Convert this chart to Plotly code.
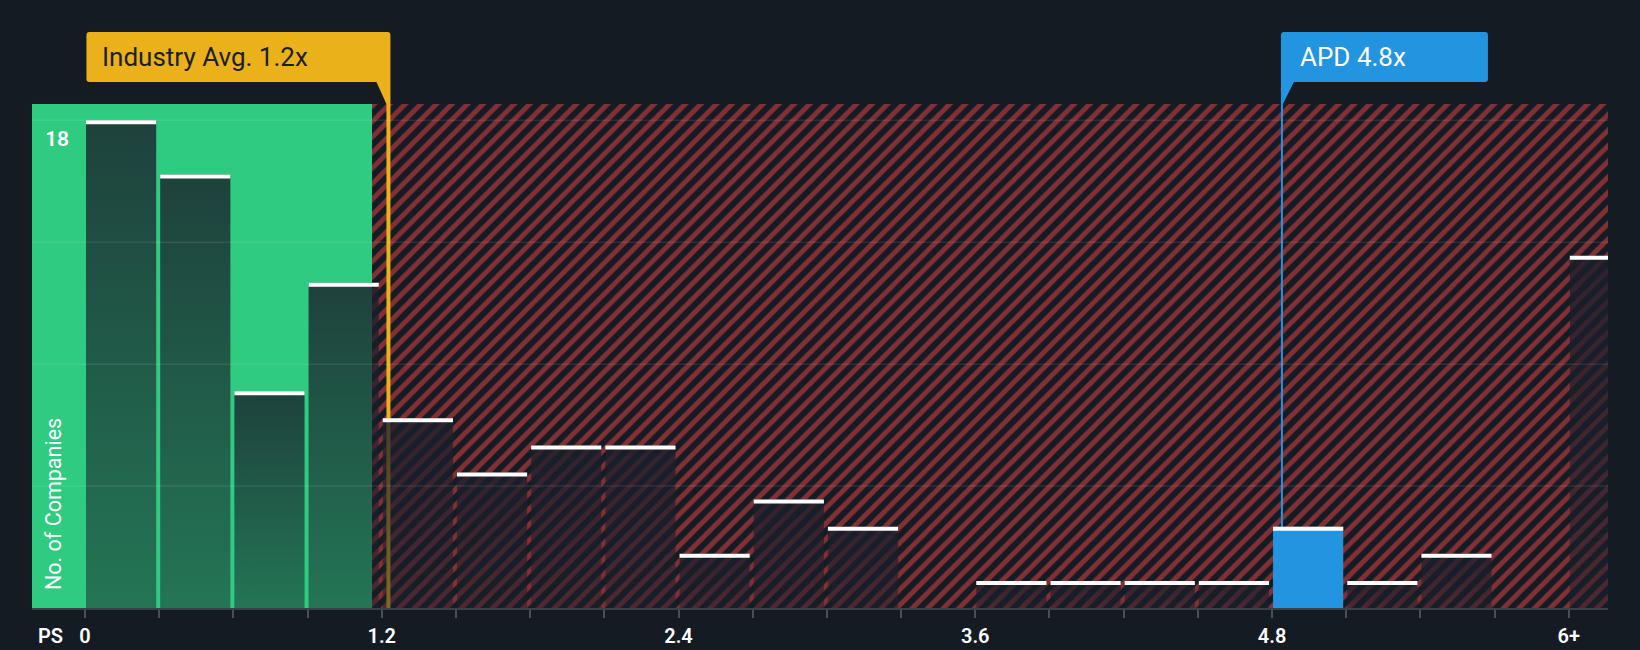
import plotly.graph_objects as go

# ---------------- data ----------------
bin_starts = [0.0, 0.3, 0.6, 0.9, 1.2, 1.5, 1.8, 2.1, 2.4, 2.7, 3.0, 3.3, 3.6,
              3.9, 4.2, 4.5, 4.8, 5.1, 5.4, 5.7, 6.0]
counts = [18, 16, 8, 12, 7, 5, 6, 6, 2, 4, 3, 0, 1, 1, 1, 1, 3, 1, 2, 0, 13]
bin_width = 0.3
x_tick_vals = [0.0, 0.3, 0.6, 0.9, 1.2, 1.5, 1.8, 2.1, 2.4, 2.7, 3.0, 3.3, 3.6,
               3.9, 4.2, 4.5, 4.8, 5.1, 5.4, 5.7, 6.0]
x_tick_text = ["0", "", "", "", "1.2", "", "", "", "2.4", "", "", "", "3.6",
               "", "", "", "4.8", "", "", "", "6+"]
y_grid_vals = [4.5, 9, 13.5, 18]
y_label_val = 18
industry_avg = 1.227
fair_zone_end = 1.162
company_name = "APD"
company_ps = 4.84

# ---------------- layout constants ----------------
W, H = 1640, 650
ML, MR, MT, MB = 32, 32, 104, 42
XR = [-0.2143, 6.1585]
YR = [0, 18.6]
PW, PH = W - ML - MR, H - MT - MB
PPU = PW / (XR[1] - XR[0])
PPY = PH / (YR[1] - YR[0])

BG = "#151B23"
GREEN = "#2ECB80"
RED = "#F24646"
YELLOW = "#EAB11B"
BLUE = "#2394DF"
FONT = "Roboto"


def xpix(v):
    return ML + (v - XR[0]) * PPU


def px2paper(px, py):
    return (px - ML) / PW, (H - MB - py) / PH


def P(px, py):
    a, b = px2paper(px, py)
    return f"{a:.5f},{b:.5f}"


fig = go.Figure()

# zones
fig.add_trace(go.Bar(x=[(XR[0] + fair_zone_end) / 2], width=[fair_zone_end - XR[0]],
                     y=[YR[1]], marker=dict(color=GREEN, line=dict(width=0)),
                     hoverinfo="skip", showlegend=False))
fig.add_trace(go.Bar(x=[(fair_zone_end + XR[1] + 0.5) / 2], width=[XR[1] + 0.5 - fair_zone_end],
                     y=[YR[1]],
                     marker=dict(color=BG, line=dict(width=0),
                                 pattern=dict(shape="/", fgcolor=RED, bgcolor=BG,
                                              size=11, solidity=0.45)),
                     hoverinfo="skip", showlegend=False))

# reference lines (below bars)
fig.add_trace(go.Scatter(x=[industry_avg, industry_avg], y=[0, YR[1]], mode="lines",
                         line=dict(color=YELLOW, width=4), hoverinfo="skip", showlegend=False))
fig.add_trace(go.Scatter(x=[company_ps, company_ps], y=[0, YR[1]], mode="lines",
                         line=dict(color=BLUE, width=2), hoverinfo="skip", showlegend=False))

# bars
cap_xs, cap_ys = [], []
cap_t = 4 / PPY
for s, c in zip(bin_starts, counts):
    if c == 0:
        continue
    x0 = s + 1 / PPU
    x1 = s + bin_width - 3 / PPU
    is_company = s <= company_ps < s + bin_width
    if is_company:
        fig.add_trace(go.Scatter(x=[x0, x0, x1, x1, x0], y=[0, c, c, 0, 0], fill="toself",
                                 mode="lines", line=dict(width=0), fillcolor=BLUE,
                                 hoverinfo="skip", showlegend=False))
    else:
        fig.add_trace(go.Scatter(
            x=[x0, x0, x1, x1, x0], y=[0, c, c, 0, 0], fill="toself",
            mode="lines", line=dict(width=0),
            fillgradient=dict(type="vertical",
                              colorscale=[[0, "rgba(26,31,43,0.5)"], [1, "rgba(26,31,43,0.8)"]]),
            hoverinfo="skip", showlegend=False))
    cap_xs += [x0, x0, x1, x1, x0, None]
    cap_ys += [c - cap_t, c, c, c - cap_t, c - cap_t, None]

fig.add_trace(go.Scatter(x=cap_xs, y=cap_ys, fill="toself", mode="lines",
                         line=dict(width=0), fillcolor="#FFFFFF",
                         hoverinfo="skip", showlegend=False))

shapes = []
for g in y_grid_vals:
    shapes.append(dict(type="line", xref="paper", x0=0, x1=1, yref="y", y0=g, y1=g,
                       line=dict(color="rgba(255,255,255,0.09)", width=1.5), layer="above"))

# industry callout
r = 3
bx1 = xpix(industry_avg) + 2
bx0 = bx1 - 304
by0, by1 = 32, 82
path = (f"M{P(bx0 + r, by0)} L{P(bx1 - r, by0)} Q{P(bx1, by0)} {P(bx1, by0 + r)} "
        f"L{P(bx1, MT)} L{P(bx1 - 4, MT)} L{P(bx1 - 14, by1)} L{P(bx0 + r, by1)} "
        f"Q{P(bx0, by1)} {P(bx0, by1 - r)} L{P(bx0, by0 + r)} Q{P(bx0, by0)} {P(bx0 + r, by0)} Z")
shapes.append(dict(type="path", xref="paper", yref="paper", path=path,
                   fillcolor=YELLOW, line=dict(width=0), layer="above"))

# company callout
cx0 = xpix(company_ps) - 1
cx1 = cx0 + 207
path2 = (f"M{P(cx0, by0 + r)} Q{P(cx0, by0)} {P(cx0 + r, by0)} L{P(cx1 - r, by0)} "
         f"Q{P(cx1, by0)} {P(cx1, by0 + r)} L{P(cx1, by1 - r)} Q{P(cx1, by1)} {P(cx1 - r, by1)} "
         f"L{P(cx0 + 13, by1)} L{P(cx0 + 2, MT)} L{P(cx0, MT)} Z")
shapes.append(dict(type="path", xref="paper", yref="paper", path=path2,
                   fillcolor=BLUE, line=dict(width=0), layer="above"))

annotations = []
ax, ay = px2paper(bx0 + 14, 57)
annotations.append(dict(x=ax, y=ay, xref="paper", yref="paper", xanchor="left", yanchor="middle",
                        text=f"Industry Avg. {industry_avg:.1f}x", showarrow=False,
                        font=dict(family=FONT, size=26, color="#1B1F27")))
ax, ay = px2paper(cx0 + 17, 57)
annotations.append(dict(x=ax, y=ay, xref="paper", yref="paper", xanchor="left", yanchor="middle",
                        text=f"{company_name} {company_ps:.1f}x", showarrow=False,
                        font=dict(family=FONT, size=26, color="#FFFFFF")))
ax, _ = px2paper(43, 0)
annotations.append(dict(x=ax, y=y_label_val, xref="paper", yref="y", xanchor="left", yanchor="top",
                        yshift=-5, text=str(y_label_val), showarrow=False,
                        font=dict(family=FONT, size=21, color="#FFFFFF", weight=600)))
ax, ay = px2paper(53, 592)
annotations.append(dict(x=ax, y=ay, xref="paper", yref="paper", xanchor="center", yanchor="bottom",
                        textangle=-90, text="No. of Companies", showarrow=False,
                        font=dict(family=FONT, size=21.5, color="#FFFFFF")))
ax, ay = px2paper(36, 636)
annotations.append(dict(x=ax, y=ay, xref="paper", yref="paper", xanchor="left", yanchor="middle",
                        text="PS", showarrow=False,
                        font=dict(family=FONT, size=20, color="#FFFFFF", weight=600)))

fig.update_layout(
    width=W, height=H,
    margin=dict(l=ML, r=MR, t=MT, b=MB, pad=0, autoexpand=False),
    paper_bgcolor=BG, plot_bgcolor=BG,
    barmode="overlay", bargap=0,
    showlegend=False,
    shapes=shapes, annotations=annotations,
    xaxis=dict(range=XR, tickmode="array", tickvals=x_tick_vals, ticktext=x_tick_text,
               ticks="outside", ticklen=8, tickwidth=2, tickcolor="#4B5058",
               showline=True, linecolor="#3C4148", linewidth=2, showgrid=False,
               zeroline=False, ticklabelstandoff=1, automargin=False,
               tickfont=dict(family=FONT, size=20, color="#FFFFFF", weight=600),
               layer="above traces"),
    yaxis=dict(range=YR, showgrid=False, zeroline=False, showticklabels=False,
               ticks="", showline=False, automargin=False),
)

fig.write_html("out.html", config={"displayModeBar": False},
               post_script="document.body.style.margin='0';document.body.style.overflow='hidden';")
